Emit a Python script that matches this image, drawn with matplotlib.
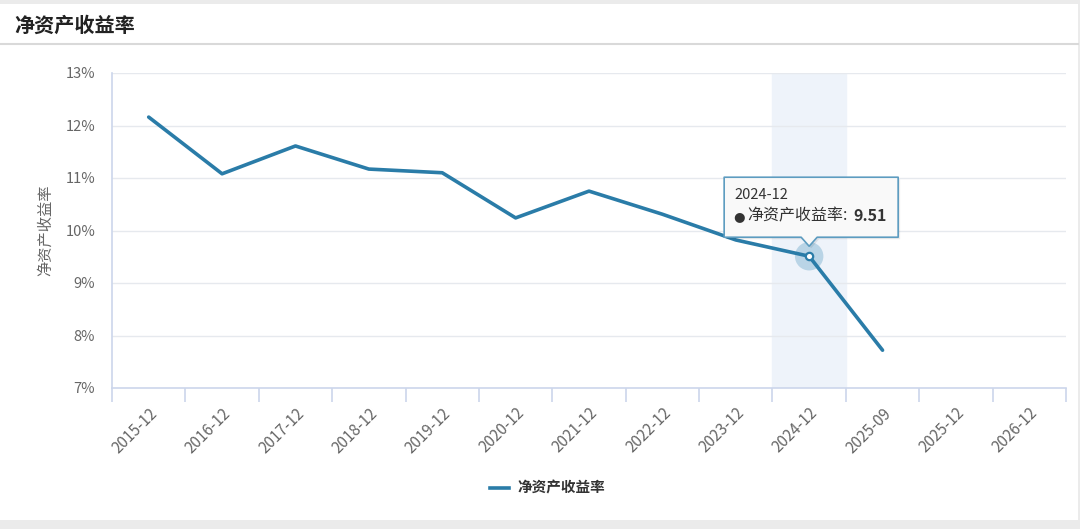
import matplotlib
matplotlib.use("Agg")
import matplotlib.pyplot as plt
from matplotlib.patches import Rectangle, Polygon
import numpy as np

plt.rcParams["font.family"] = ["Noto Sans CJK SC", "DejaVu Sans"]

CATEGORIES = ["2015-12", "2016-12", "2017-12", "2018-12", "2019-12", "2020-12",
              "2021-12", "2022-12", "2023-12", "2024-12", "2025-09", "2025-12", "2026-12"]
ROE = [12.16, 11.08, 11.61, 11.17, 11.10, 10.24, 10.75, 10.31, 9.82, 9.51, 7.72]
Y_TICKS = [7, 8, 9, 10, 11, 12, 13]
TITLE = "净资产收益率"
HIGHLIGHT = 9

LINE_COLOR = "#2a7ca8"
AXIS_COLOR = "#ccd6eb"
GRID_COLOR = "#e6e9ee"
TEXT_COLOR = "#666666"


def main():
    W, H = 1080, 529
    fig = plt.figure(figsize=(W / 100, H / 100), dpi=100)
    fig.patch.set_facecolor("#ebebeb")

    # white panel and title bar
    fig.patches.append(Rectangle((0, 9 / H), 1078 / W, 1 - 13 / H, transform=fig.transFigure,
                                 facecolor="white", edgecolor="none", zorder=-10))
    fig.lines.append(plt.Line2D([0, 1078 / W], [1 - 44 / H, 1 - 44 / H], transform=fig.transFigure,
                                color="#d9d9d9", lw=1.5, zorder=-9))
    fig.text(14 / W, 1 - 25 / H, TITLE, fontsize=14.5, fontweight="bold", color="#222222",
             va="center", ha="left")

    ax = fig.add_axes([112 / W, 1 - 388 / H, (1066 - 112) / W, (388 - 73) / H])
    ax.set_facecolor("none")
    x = np.arange(len(ROE))
    ax.set_xlim(-0.5, len(CATEGORIES) - 0.5)
    ax.set_ylim(Y_TICKS[0], Y_TICKS[-1])

    ax.axvspan(HIGHLIGHT - 0.5, HIGHLIGHT + 0.5, color="#eef3fa", zorder=0)
    for yv in Y_TICKS[1:]:
        ax.axhline(yv, color=GRID_COLOR, lw=1, zorder=1)

    ax.plot(x, ROE, color=LINE_COLOR, lw=2.6, zorder=3, solid_capstyle="round",
            solid_joinstyle="round")
    ax.scatter([HIGHLIGHT], [ROE[HIGHLIGHT]], s=420, color="#8fbcd6", alpha=0.55,
               zorder=2, edgecolors="none")
    ax.scatter([HIGHLIGHT], [ROE[HIGHLIGHT]], s=28, facecolor="white",
               edgecolor=LINE_COLOR, lw=1.6, zorder=4)

    for side in ["top", "right"]:
        ax.spines[side].set_visible(False)
    ax.spines["left"].set_color(AXIS_COLOR)
    ax.spines["bottom"].set_color(AXIS_COLOR)
    ax.spines["left"].set_linewidth(1.2)
    ax.spines["bottom"].set_linewidth(1.2)

    ax.set_yticks(Y_TICKS)
    ax.set_yticklabels([f"{v}%" for v in Y_TICKS])
    ax.tick_params(axis="y", length=0, pad=12, labelsize=10.5, labelcolor=TEXT_COLOR)

    ax.set_xticks(np.arange(len(CATEGORIES)))
    ax.set_xticklabels(CATEGORIES, rotation=45, ha="right", rotation_mode="anchor")
    ax.tick_params(axis="x", length=0, pad=12, labelsize=11, labelcolor=TEXT_COLOR)
    ax.set_xticks(np.arange(len(CATEGORIES) + 1) - 0.5, minor=True)
    ax.tick_params(axis="x", which="minor", length=10, color=AXIS_COLOR, width=1.2)

    ax.set_ylabel(TITLE, fontsize=11, color=TEXT_COLOR, labelpad=8)

    # legend
    leg = fig.legend([plt.Line2D([], [], color=LINE_COLOR, lw=2.6)], [TITLE],
                     loc="center", bbox_to_anchor=(548 / W, 1 - 488 / H), frameon=False,
                     handlelength=1.3, handletextpad=0.6,
                     prop={"size": 10.5, "weight": "bold"})
    for t in leg.get_texts():
        t.set_color("#333333")

    # tooltip
    fig.canvas.draw()
    px, py = ax.transData.transform((HIGHLIGHT, ROE[HIGHLIGHT]))
    left, right = px - 85, px + 89
    bottom, top = py + 19, py + 79
    pts = [(left, bottom), (px - 8, bottom), (px, bottom - 9), (px + 8, bottom),
           (right, bottom), (right, top), (left, top)]
    shadow = Polygon([(a + 2, b - 2) for a, b in pts], closed=True, transform=None,
                     facecolor="#000000", alpha=0.08, edgecolor="none", zorder=9)
    box = Polygon(pts, closed=True, transform=None, facecolor="#f9f9f9",
                  edgecolor="#5d9cc0", lw=1.2, zorder=10, joinstyle="round")
    fig.patches.extend([shadow, box])
    fig.text((left + 10) / W, (top - 18) / H, CATEGORIES[HIGHLIGHT], fontsize=10.5,
             color="#333333", va="center", ha="left", zorder=11)
    row_y = (top - 39) / H
    fig.text((left + 9) / W, row_y, "●", fontsize=9.5, color="#333333",
             va="center", ha="left", zorder=11, family="DejaVu Sans")
    fig.text((left + 23) / W, row_y, TITLE + ":", fontsize=11.5, color="#333333",
             va="center", ha="left", zorder=11)
    fig.text((left + 129) / W, row_y, f"{ROE[HIGHLIGHT]:.2f}", fontsize=11.5,
             fontweight="bold", color="#333333", va="center", ha="left", zorder=11)

    fig.savefig("out.png", dpi=100, facecolor=fig.get_facecolor())
    plt.close(fig)


if __name__ == "__main__":
    main()
